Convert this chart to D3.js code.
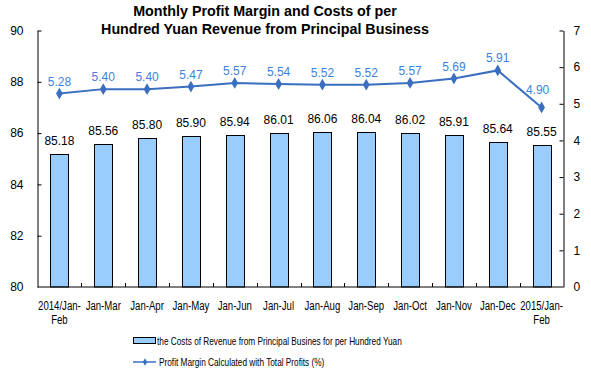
<!DOCTYPE html>
<html>
<head>
<meta charset="utf-8">
<script src="https://cdn.jsdelivr.net/npm/d3@7"></script>
<style>
  body { margin: 0; background: #fff; }
  svg { display: block; font-family: Arial, "Liberation Sans", sans-serif; }
</style>
</head>
<body>
<div id="chart"></div>
<script>
// chart data
const categories = ['2014/Jan-Feb', 'Jan-Mar', 'Jan-Apr', 'Jan-May', 'Jan-Jun', 'Jan-Jul',
  'Jan-Aug', 'Jan-Sep', 'Jan-Oct', 'Jan-Nov', 'Jan-Dec', '2015/Jan-Feb'];
const costs = [85.18, 85.56, 85.80, 85.90, 85.94, 86.01, 86.06, 86.04, 86.02, 85.91, 85.64, 85.55];
const margin = [5.28, 5.40, 5.40, 5.47, 5.57, 5.54, 5.52, 5.52, 5.57, 5.69, 5.91, 4.90];
const leftTicks = [80, 82, 84, 86, 88, 90];
const rightTicks = [0, 1, 2, 3, 4, 5, 6, 7];
const titleLines = ['Monthly Profit Margin and Costs of per', 'Hundred Yuan Revenue from Principal Business'];
const legendCosts = 'the Costs of Revenue from Principal Busines for per Hundred Yuan';
const legendMargin = 'Profit Margin Calculated with Total Profits (%)';

const width = 591, height = 377;
const plot = {left: 37.5, right: 563.5, top: 30.5, bottom: 287};
const barColor = '#99ccff', lineColor = '#3a6fc0', lineLabelColor = '#3b82dc';

// no narrow font installed, so squeeze text horizontally
function squeeze(sel, k) {
  sel.each(function() {
    const len = this.getComputedTextLength();
    d3.select(this).attr('textLength', len * k).attr('lengthAdjust', 'spacingAndGlyphs');
  });
}

const svg = d3.select('#chart').append('svg')
  .attr('width', width).attr('height', height);

// title
svg.append('g').selectAll('text').data(titleLines).join('text')
  .attr('x', 265).attr('y', (d, i) => 16 + i * 18)
  .attr('text-anchor', 'middle')
  .style('font-weight', 'bold').style('font-size', '14.3px')
  .text(d => d);

// scales
const x = d3.scaleBand(categories, [plot.left, plot.right])
  .paddingInner(0.59).paddingOuter(0.295);
const yL = d3.scaleLinear([80, 90], [plot.bottom, plot.top]);
const yR = d3.scaleLinear([0, 7], [plot.bottom, plot.top]);

// bars
svg.append('g').selectAll('rect').data(costs).join('rect')
  .attr('x', (d, i) => Math.round(x(categories[i])) + 0.5)
  .attr('y', d => Math.round(yL(d)) + 0.5)
  .attr('width', Math.round(x.bandwidth()))
  .attr('height', d => plot.bottom - Math.round(yL(d)) - 0.5)
  .attr('fill', barColor)
  .attr('stroke', '#000').attr('stroke-width', 1);

svg.append('g').selectAll('text').data(costs).join('text')
  .attr('x', (d, i) => x(categories[i]) + x.bandwidth() / 2)
  .attr('y', d => yL(d) - 9)
  .attr('text-anchor', 'middle')
  .style('font-size', '12px').attr('fill', '#000')
  .text(d => d.toFixed(2));

// axes
const axisL = svg.append('g').attr('transform', `translate(${plot.left},0)`)
  .call(d3.axisLeft(yL).tickValues(leftTicks).tickSize(-4).tickPadding(14).tickSizeOuter(0));
const axisR = svg.append('g').attr('transform', `translate(${plot.right},0)`)
  .call(d3.axisRight(yR).tickValues(rightTicks).tickFormat(d3.format('d'))
    .tickSize(-4).tickPadding(10).tickSizeOuter(0));
[axisL, axisR].forEach(a => {
  a.select('.domain').attr('stroke', '#000');
  a.selectAll('line').attr('stroke', '#000');
  a.selectAll('text').style('font-size', '12px').attr('fill', '#000');
  a.selectAll('.tick').filter(d => d === 80 || d === 0).select('line').remove();
});

// x axis line with boundary ticks
const xAxis = svg.append('g');
xAxis.append('line')
  .attr('x1', plot.left).attr('x2', plot.right)
  .attr('y1', plot.bottom).attr('y2', plot.bottom)
  .attr('stroke', '#000');
xAxis.selectAll('line.tk').data(categories.slice(1)).join('line')
  .attr('class', 'tk')
  .attr('x1', d => Math.round(x(d) - x.step() * x.paddingInner() / 2) + 0.5)
  .attr('x2', d => Math.round(x(d) - x.step() * x.paddingInner() / 2) + 0.5)
  .attr('y1', plot.bottom).attr('y2', plot.bottom - 4)
  .attr('stroke', '#000');
const xLabels = xAxis.selectAll('g.lbl').data(categories).join('g').attr('class', 'lbl');
xLabels.each(function(d) {
  const cx = x(d) + x.bandwidth() / 2;
  const parts = d.includes('/') ? [d.slice(0, d.length - 3), d.slice(-3)] : [d];
  d3.select(this).selectAll('text').data(parts).join('text')
    .attr('x', cx).attr('y', (p, i) => 310 + i * 14)
    .attr('text-anchor', 'middle')
    .style('font-size', '12px')
    .text(p => p);
});
squeeze(xLabels.selectAll('text'), 0.8);

// line series
const cx = i => x(categories[i]) + x.bandwidth() / 2;
svg.append('path').datum(margin)
  .attr('d', d3.line().x((d, i) => cx(i)).y(d => yR(d)))
  .attr('fill', 'none').attr('stroke', lineColor).attr('stroke-width', 2);
const diamond = d3.symbol(d3.symbolDiamond, 40);
svg.append('g').selectAll('path').data(margin).join('path')
  .attr('transform', (d, i) => `translate(${cx(i)},${yR(d)})`)
  .attr('d', diamond).attr('fill', lineColor);
svg.append('g').selectAll('text').data(margin).join('text')
  .attr('x', (d, i) => cx(i) - (i === margin.length - 1 ? 4 : 0))
  .attr('y', (d, i) => yR(d) - (i === margin.length - 1 ? 13 : 8))
  .attr('text-anchor', 'middle')
  .style('font-size', '12px').attr('fill', lineLabelColor)
  .text(d => d.toFixed(2));

// legend
const lg = svg.append('g').style('font-size', '11px');
lg.append('rect').attr('x', 133.5).attr('y', 337.5).attr('width', 22).attr('height', 6)
  .attr('fill', barColor).attr('stroke', '#000');
lg.append('line').attr('x1', 133).attr('x2', 156).attr('y1', 362).attr('y2', 362)
  .attr('stroke', lineColor).attr('stroke-width', 1.5);
lg.append('path').attr('transform', 'translate(145,362)')
  .attr('d', d3.symbol(d3.symbolDiamond, 16)).attr('fill', lineColor);
const lgText = lg.selectAll('text').data([legendCosts, legendMargin]).join('text')
  .attr('x', (d, i) => i ? 159 : 157).attr('y', (d, i) => i ? 366 : 345)
  .text(d => d);
squeeze(lgText, 0.75);
</script>
</body>
</html>
